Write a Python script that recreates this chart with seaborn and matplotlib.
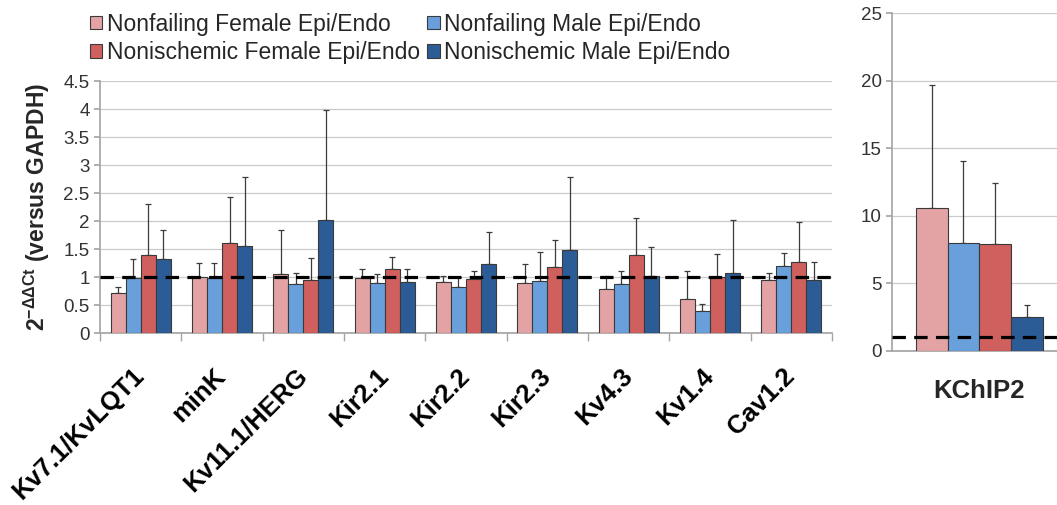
import numpy as np
import pandas as pd
import matplotlib
matplotlib.use("Agg")
import matplotlib.pyplot as plt
import seaborn as sns
from matplotlib.patches import Patch

sns.set_theme(style="white")
plt.rcParams['font.family'] = ['Liberation Sans', 'DejaVu Sans']
plt.rcParams['mathtext.fontset'] = 'custom'
plt.rcParams['mathtext.rm'] = 'Liberation Sans'
plt.rcParams['mathtext.bf'] = 'Liberation Sans:bold'

# data
CATEGORIES = ['Kv7.1/KvLQT1', 'minK', 'Kv11.1/HERG', 'Kir2.1', 'Kir2.2',
              'Kir2.3', 'Kv4.3', 'Kv1.4', 'Cav1.2']
SERIES = ['Nonfailing Female Epi/Endo', 'Nonischemic Female Epi/Endo',
          'Nonfailing Male Epi/Endo', 'Nonischemic Male Epi/Endo']
BAR_ORDER = ['Nonfailing Female Epi/Endo', 'Nonfailing Male Epi/Endo',
             'Nonischemic Female Epi/Endo', 'Nonischemic Male Epi/Endo']

nf_female = [0.72, 1.00, 1.06, 0.98, 0.92, 0.90, 0.80, 0.61, 0.95]
nf_female_top = [0.82, 1.25, 1.85, 1.14, 1.02, 1.24, 1.03, 1.12, 1.07]
nf_male = [0.99, 0.99, 0.88, 0.89, 0.82, 0.93, 0.88, 0.40, 1.20]
nf_male_top = [1.32, 1.25, 1.07, 1.06, 1.00, 1.45, 1.11, 0.52, 1.43]
ni_female = [1.40, 1.62, 0.95, 1.14, 0.97, 1.18, 1.39, 1.01, 1.27]
ni_female_top = [2.31, 2.43, 1.34, 1.37, 1.11, 1.67, 2.06, 1.42, 1.98]
ni_male = [1.33, 1.56, 2.02, 0.91, 1.24, 1.49, 1.03, 1.08, 0.95]
ni_male_top = [1.85, 2.79, 3.99, 1.14, 1.81, 2.80, 1.55, 2.02, 1.28]

kchip2 = [10.6, 8.02, 7.9, 2.48]
kchip2_top = [19.7, 14.08, 12.4, 3.4]

COLORS = {'Nonfailing Female Epi/Endo': '#E3A3A4',
          'Nonfailing Male Epi/Endo': '#69A0DC',
          'Nonischemic Female Epi/Endo': '#D0605D',
          'Nonischemic Male Epi/Endo': '#2C5C95'}

vals = [nf_female, nf_male, ni_female, ni_male]
tops = [nf_female_top, nf_male_top, ni_female_top, ni_male_top]
rows = []
for s, v, t in zip(BAR_ORDER, vals, tops):
    for c, vi, ti in zip(CATEGORIES, v, t):
        rows.append({'gene': c, 'group': s, 'value': vi, 'top': ti})
df = pd.DataFrame(rows)

df2 = pd.DataFrame({'gene': ['KChIP2'] * 4, 'group': BAR_ORDER,
                    'value': kchip2, 'top': kchip2_top})

GRID = '#cbcbcb'
SPINE = '#a6a6a6'


def draw_panel(ax, data, order, width):
    sns.barplot(data=data, x='gene', y='value', hue='group', order=order,
                hue_order=BAR_ORDER, palette=COLORS, width=width,
                saturation=1, edgecolor='#3a3a3a', linewidth=0.8,
                legend=False, ax=ax, errorbar=None, zorder=3)
    # upper error bars from bar positions
    for cont, s in zip(list(ax.containers), BAR_ORDER):
        sub = data[data['group'] == s].set_index('gene').loc[order]
        xs = [b.get_x() + b.get_width() / 2 for b in cont]
        ys = sub['value'].values
        up = sub['top'].values - ys
        ax.errorbar(xs, ys, yerr=[np.zeros_like(up), up], fmt='none',
                    ecolor='#3c3c3c', elinewidth=0.9, capsize=2,
                    capthick=0.9, zorder=2)
    ax.axhline(1, color='black', lw=2.3, dashes=(4.2, 2.6), zorder=4)
    ax.yaxis.grid(True, color=GRID, lw=0.9)
    ax.set_axisbelow(True)
    for sp in ['top', 'right']:
        ax.spines[sp].set_visible(False)
    ax.spines['left'].set_color(SPINE)
    ax.spines['bottom'].set_color(SPINE)
    ax.tick_params(axis='y', length=4, color=SPINE, labelsize=13.5,
                   labelcolor='#333333', left=True)
    ax.set_xlabel('')
    ax.set_ylabel('')


fig = plt.figure(figsize=(10.57, 5.05), dpi=100)
ax1 = fig.add_axes([0.0946, 0.340, 0.6925, 0.499])
ax2 = fig.add_axes([0.844, 0.305, 0.156, 0.669])

draw_panel(ax1, df, CATEGORIES, 0.74)
ax1.set_ylim(0, 4.5)
ax1.set_yticks(np.arange(0, 4.51, 0.5))
ax1.set_yticklabels(['0', '0.5', '1', '1.5', '2', '2.5', '3', '3.5', '4', '4.5'])
ax1.set_xlim(-0.5, len(CATEGORIES) - 0.5)
ax1.set_xticks(np.arange(-0.5, len(CATEGORIES)), minor=True)
ax1.tick_params(axis='x', which='minor', length=6, color=SPINE, bottom=True)
ax1.tick_params(axis='x', which='major', length=0, pad=28)
ax1.set_xticks(range(len(CATEGORIES)))
ax1.set_xticklabels(CATEGORIES, rotation=45, ha='right', va='center',
                    rotation_mode='anchor', fontsize=18.5, fontweight='bold',
                    color='black')
ax1.set_ylabel(r'$\mathbf{2^{-\Delta\Delta Ct}}$ (versus GAPDH)',
               fontsize=16.5, fontweight='bold', labelpad=8)

draw_panel(ax2, df2, ['KChIP2'], 0.8)
ax2.set_ylim(0, 25)
ax2.set_yticks(range(0, 26, 5))
ax2.set_xlim(-0.55, 0.49)
ax2.tick_params(axis='x', length=0, pad=20, labelsize=18.5)
for lab in ax2.get_xticklabels():
    lab.set_fontweight('bold')

handles = [Patch(facecolor=COLORS[s], edgecolor='#3a3a3a', lw=0.8) for s in SERIES]
fig.legend(handles, SERIES, ncol=2, loc='upper left',
           bbox_to_anchor=(0.0655, 1.016), frameon=False, fontsize=16.5,
           handlelength=0.55, handleheight=0.55, handletextpad=0.2,
           columnspacing=0.3, labelspacing=0.25)

fig.savefig('out.png', dpi=100)
